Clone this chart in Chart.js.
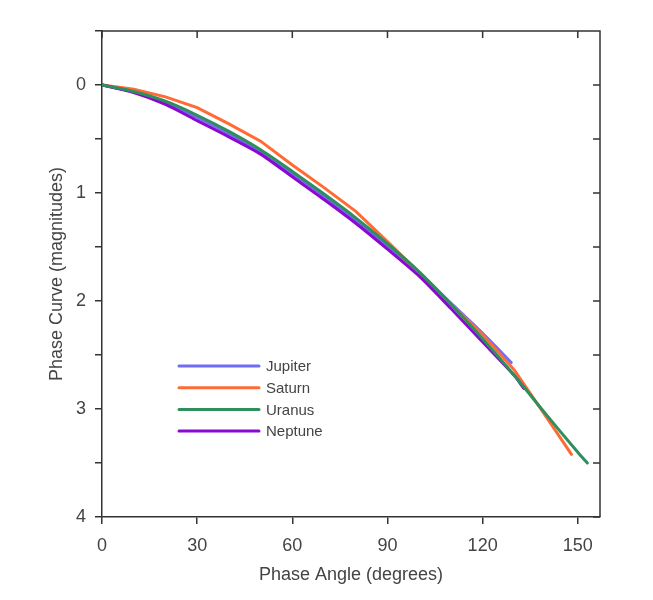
<!DOCTYPE html>
<html>
<head>
<meta charset="utf-8">
<script src="https://cdn.jsdelivr.net/npm/chart.js@4/dist/chart.umd.min.js"></script>
<style>
  html, body { margin: 0; padding: 0; background: #fff; }
  #wrap { width: 653px; height: 600px; }
</style>
</head>
<body>
<div id="wrap"><canvas id="grafico" width="653" height="600"></canvas></div>
<script>
// dados (graus, magnitudes)
const nomes = ["Jupiter", "Saturn", "Uranus", "Neptune"];
const cores = ["#6f6cf5", "#ff6a35", "#2e8f5c", "#8a08d0"];

const jupiterAng = [0, 10, 20, 30, 40, 50, 60, 70, 80, 90, 100, 110, 120, 129];
const jupiterMag = [0, 0.065, 0.165, 0.30, 0.45, 0.62, 0.82, 1.03, 1.25, 1.49, 1.74, 2.02, 2.30, 2.57];

const saturnAng = [0, 10, 20, 30, 40, 50, 60, 70, 80, 90, 100, 110, 120, 130, 140, 148];
const saturnMag = [0, 0.04, 0.11, 0.21, 0.36, 0.52, 0.74, 0.95, 1.17, 1.45, 1.74, 2.03, 2.31, 2.64, 3.07, 3.42];

const uranusAng = [0, 10, 20, 30, 40, 50, 60, 70, 80, 90, 100, 110, 120, 130, 140, 150, 153];
const uranusMag = [0, 0.06, 0.15, 0.28, 0.43, 0.60, 0.80, 1.01, 1.23, 1.47, 1.73, 2.03, 2.35, 2.69, 3.05, 3.40, 3.50];

const neptuneAng = [0, 10, 20, 30, 40, 50, 60, 70, 80, 90, 100, 110, 120, 130, 133];
const neptuneMag = [0, 0.07, 0.18, 0.33, 0.48, 0.64, 0.85, 1.06, 1.28, 1.52, 1.77, 2.07, 2.38, 2.69, 2.81];

const xTicks = [0, 30, 60, 90, 120, 150];
const yTicks = [0, 1, 2, 3, 4];

const pontos = (a, m) => a.map((v, i) => ({ x: v, y: m[i] }));
const series = [
  pontos(jupiterAng, jupiterMag),
  pontos(saturnAng, saturnMag),
  pontos(uranusAng, uranusMag),
  pontos(neptuneAng, neptuneMag)
];
const ordem = [3, 2, 0, 1]; // Uranus por cima

const corEixo = "#333";
const fonte = "'Liberation Sans', Arial, sans-serif";

// moldura de cima/direita com marcas para dentro + legenda
const moldura = {
  id: "moldura",
  afterDraw(chart) {
    const ctx = chart.ctx;
    const a = chart.chartArea;
    const sx = chart.scales.x, sy = chart.scales.y;
    ctx.save();
    ctx.strokeStyle = corEixo;
    ctx.lineWidth = 1.5;
    ctx.beginPath();
    ctx.moveTo(a.left, a.top);
    ctx.lineTo(a.right, a.top);
    ctx.lineTo(a.right, a.bottom);
    xTicks.forEach(v => {
      const px = sx.getPixelForValue(v);
      ctx.moveTo(px, a.top);
      ctx.lineTo(px, a.top + 7);
    });
    for (let v = 0; v <= 4; v += 0.5) {
      const py = sy.getPixelForValue(v);
      ctx.moveTo(a.right, py);
      ctx.lineTo(a.right - 7, py);
    }
    ctx.stroke();

    // legenda
    ctx.font = "15px " + fonte;
    ctx.textBaseline = "middle";
    ctx.lineCap = "round";
    nomes.forEach((n, i) => {
      const y = 366 + i * 21.7;
      ctx.strokeStyle = cores[i];
      ctx.lineWidth = 3;
      ctx.beginPath();
      ctx.moveTo(179, y);
      ctx.lineTo(259, y);
      ctx.stroke();
      ctx.fillStyle = "#444";
      ctx.fillText(n, 266, y + 1);
    });
    ctx.restore();
  }
};

new Chart(document.getElementById("grafico"), {
  type: "line",
  data: {
    datasets: series.map((s, i) => ({
      label: nomes[i],
      data: s,
      borderColor: cores[i],
      backgroundColor: cores[i],
      borderWidth: 3,
      pointRadius: 0,
      tension: i === 1 ? 0 : 0.25,
      borderCapStyle: "round",
      order: ordem[i]
    }))
  },
  options: {
    responsive: false,
    animation: false,
    layout: { padding: { left: 42, right: 53, top: 31, bottom: 10 } },
    plugins: {
      legend: { display: false },
      tooltip: { enabled: false }
    },
    scales: {
      x: {
        type: "linear",
        min: 0,
        max: 157,
        afterBuildTicks: s => { s.ticks = xTicks.map(v => ({ value: v })); },
        afterFit: s => { s.height = 73; },
        grid: { drawOnChartArea: false, drawTicks: true, tickLength: 7, color: corEixo, lineWidth: 1.5 },
        border: { display: true, color: corEixo, width: 1.5 },
        ticks: {
          color: "#444",
          padding: 11,
          maxRotation: 0,
          font: { family: fonte, size: 18 }
        },
        title: {
          display: true,
          text: "Phase Angle (degrees)",
          color: "#444",
          padding: { top: 0, bottom: 4 },
          font: { family: fonte, size: 18 }
        }
      },
      y: {
        type: "linear",
        reverse: true,
        min: -0.5,
        max: 4,
        afterFit: s => { s.width = 60; },
        ticks: {
          stepSize: 0.5,
          color: "#444",
          padding: 9,
          callback: v => yTicks.includes(v) ? String(v) : "",
          font: { family: fonte, size: 18 }
        },
        grid: { drawOnChartArea: false, drawTicks: true, tickLength: 7, color: corEixo, lineWidth: 1.5 },
        border: { display: true, color: corEixo, width: 1.5 },
        title: {
          display: true,
          text: "Phase Curve (magnitudes)",
          color: "#444",
          padding: { top: 4, bottom: 0 },
          font: { family: fonte, size: 18 }
        }
      }
    }
  },
  plugins: [moldura]
});
</script>
</body>
</html>
